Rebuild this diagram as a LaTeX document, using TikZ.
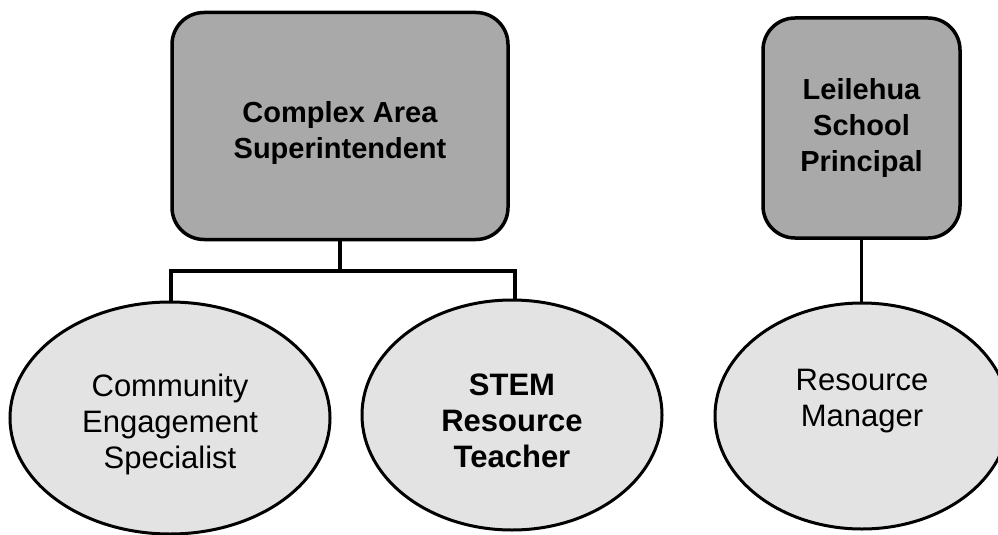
\documentclass[tikz,border=0pt]{standalone}
\usepackage{fontspec}
\setmainfont{Liberation Sans}
\usetikzlibrary{shapes.geometric}
\begin{document}
\begin{tikzpicture}[x=1pt,y=-1pt,
  boxstyle/.style={draw=black, line width=3.5pt, fill=boxgray, rounded corners=32pt, inner sep=0pt, align=center, font=\fontsize{29}{36}\selectfont\bfseries},
  ellstyle/.style={draw=black, line width=3pt, fill=ellgray, ellipse, inner sep=0pt, align=center, font=\fontsize{31}{36}\selectfont},
  conn/.style={draw=black, line width=3.5pt}]
\definecolor{boxgray}{HTML}{A9A9A9}
\definecolor{ellgray}{HTML}{E3E3E3}
\useasboundingbox (0,0) rectangle (998,535);
\node[boxstyle, minimum width=336pt, minimum height=227pt] (cas) at (340,126) {};
\node[font=\fontsize{29}{36}\selectfont\bfseries, align=center] (castext) at (340,133) {Complex Area\\Superintendent};
\node[boxstyle, minimum width=197pt, minimum height=220pt] (lsp) at (861.5,128) {};
\node[font=\fontsize{29}{36}\selectfont\bfseries, align=center] (lsptext) at (861.5,128) {Leilehua\\School\\Principal};
\node[ellstyle, minimum width=320pt, minimum height=232pt] (ces) at (170,418) {};
\node[font=\fontsize{31}{36}\selectfont, align=center] (cestext) at (170,424) {Community\\Engagement\\Specialist};
\node[ellstyle, minimum width=300pt, minimum height=230pt] (stem) at (512,415) {};
\node[font=\fontsize{31}{36}\selectfont\bfseries, align=center] (stemtext) at (512,421) {STEM\\Resource\\Teacher};
\node[ellstyle, minimum width=294pt, minimum height=226pt] (rm) at (862,416) {};
\node[font=\fontsize{31}{36}\selectfont, align=center] (rmtext) at (862,401) {Resource\\Manager};
\coordinate (jl) at (171,271);
\coordinate (jr) at (515,271);
\draw[conn] (cas.south) -- (cas.south |- jl);
\draw[conn] (jl |- ces.north) -- (jl) -- (jr) -- (jr |- stem.north);
\draw[conn] (lsp.south) -- (lsp.south |- rm.north);
\end{tikzpicture}
\end{document}
